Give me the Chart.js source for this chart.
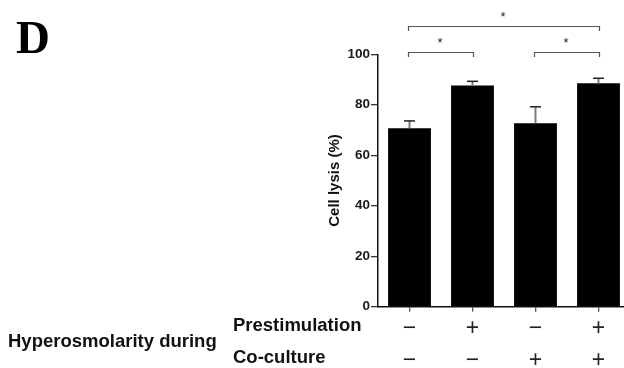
<!DOCTYPE html>
<html><head><meta charset="utf-8">
<script src="https://cdn.jsdelivr.net/npm/chart.js@4.4.0/dist/chart.umd.min.js"></script>
<style>
html,body{margin:0;padding:0;background:#fff;overflow:hidden;width:624px;height:368px}
#wrap{position:absolute;left:0;top:0;width:640px;height:368px}
</style>
</head><body><div id="wrap"><canvas id="c" width="640" height="368"></canvas></div>
<script>
const categories = ['−/−', '+/−', '−/+', '+/+'];
const prestimulation = ['−', '+', '−', '+'];
const coculture = ['−', '−', '+', '+'];
const cellLysis = [70.7, 87.6, 72.7, 88.5];
const sem = [2.9, 1.7, 6.5, 2.0];
const comparisons = [[0, 1], [2, 3], [0, 3]];
const compLabels = ['*', '*', '*'];
const rowTitles = ['Prestimulation', 'Co-culture'];
const groupTitle = 'Hyperosmolarity during';
const panelLetter = 'D';
const yTitle = 'Cell lysis (%)';

const SANS = '"Liberation Sans", Arial, sans-serif';
const SERIF = '"Liberation Serif", "Times New Roman", serif';

const overlay = {
  id: 'overlay',
  afterDatasetsDraw(chart) {
    const ctx = chart.ctx, xs = chart.scales.x, ys = chart.scales.y;
    ctx.save();
    cellLysis.forEach((v, i) => {
      const px = Math.round(xs.getPixelForValue(i)) - 0.5;
      const y0 = ys.getPixelForValue(v);
      const y1 = ys.getPixelForValue(v + sem[i]);
      ctx.strokeStyle = '#7a7a7a'; ctx.lineWidth = 2;
      ctx.beginPath(); ctx.moveTo(px, y0); ctx.lineTo(px, y1); ctx.stroke();
      ctx.strokeStyle = '#222'; ctx.lineWidth = 1.5;
      ctx.beginPath(); ctx.moveTo(px - 5.5, y1); ctx.lineTo(px + 5.5, y1); ctx.stroke();
    });
    ctx.restore();
  },
  afterDraw(chart) {
    const ctx = chart.ctx, xs = chart.scales.x, ca = chart.chartArea;
    ctx.save();
    const tiers = [0, 0, 1];
    comparisons.forEach((pair, k) => {
      const xa = Math.round(xs.getPixelForValue(pair[0])) - 1.5;
      const xb = Math.round(xs.getPixelForValue(pair[1])) + 0.5;
      const yb = Math.round(ca.top - 1 - tiers[k] * 26) - 0.5;
      ctx.strokeStyle = '#555'; ctx.lineWidth = 1.2;
      ctx.beginPath();
      ctx.moveTo(xa, yb + 4.5); ctx.lineTo(xa, yb); ctx.lineTo(xb, yb); ctx.lineTo(xb, yb + 4.5);
      ctx.stroke();
      ctx.fillStyle = '#222';
      ctx.font = '13px ' + SANS;
      ctx.textAlign = 'center'; ctx.textBaseline = 'alphabetic';
      ctx.fillText(compLabels[k], (xa + xb) / 2 - 1, yb - 5.5);
    });
    ctx.font = '23px ' + SANS;
    ctx.fillStyle = '#222';
    ctx.textAlign = 'center'; ctx.textBaseline = 'alphabetic';
    categories.forEach((c, i) => {
      const px = xs.getPixelForValue(i);
      ctx.fillText(prestimulation[i], px, 335);
      ctx.fillText(coculture[i], px, 367);
    });
    ctx.fillStyle = '#111';
    ctx.font = 'bold 18.5px ' + SANS;
    ctx.textAlign = 'left';
    ctx.fillText(rowTitles[0], 233, 331);
    ctx.fillText(rowTitles[1], 233, 363);
    ctx.fillText(groupTitle, 8, 347);
    ctx.fillStyle = '#000';
    ctx.font = 'bold 47px ' + SERIF;
    ctx.fillText(panelLetter, 16, 53);
    ctx.restore();
  }
};

new Chart(document.getElementById('c'), {
  type: 'bar',
  data: {
    labels: categories,
    datasets: [{
      data: cellLysis,
      backgroundColor: '#000',
      borderWidth: 0,
      barPercentage: 0.68,
      categoryPercentage: 1
    }]
  },
  options: {
    responsive: false,
    animation: false,
    devicePixelRatio: 1,
    layout: { padding: { left: 326, top: 54.3, right: 10, bottom: 0 } },
    plugins: { legend: { display: false }, tooltip: { enabled: false } },
    scales: {
      x: {
        afterFit(s) { s.height = 61.3; },
        ticks: { display: false },
        grid: { offset: false, drawOnChartArea: false, drawTicks: true, tickLength: 5, color: '#555', lineWidth: 1.3 },
        border: { display: true, color: '#111', width: 1.5 }
      },
      y: {
        min: 0, max: 100,
        afterFit(s) { s.width = 52; },
        ticks: { stepSize: 20, padding: 1, color: '#1a1a1a', font: { family: SANS, size: 13.5, weight: 'bold' } },
        grid: { drawOnChartArea: false, drawTicks: true, tickLength: 7, color: '#333', lineWidth: 1.3 },
        border: { display: true, color: '#111', width: 1.5 },
        title: { display: true, text: yTitle, color: '#111', padding: 0, font: { family: SANS, size: 15, weight: 'bold' } }
      }
    }
  },
  plugins: [overlay]
});
</script>
</body></html>
